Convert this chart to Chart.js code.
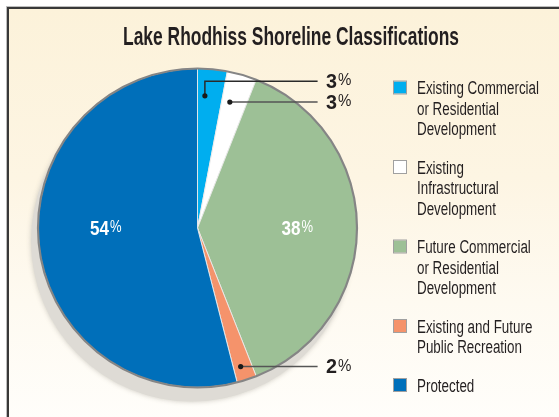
<!DOCTYPE html>
<html><head><meta charset="utf-8">
<script src="https://cdn.jsdelivr.net/npm/chart.js@4/dist/chart.umd.min.js"></script>
<style>
html,body{margin:0;padding:0;background:#fff;width:559px;height:417px;overflow:hidden}
#frame{position:absolute;left:7px;top:7px;width:560px;height:420px;border-left:2px solid #383838;border-top:2px solid #383838;
background:linear-gradient(to bottom,#fcf2da 0%,#fdf5e3 40%,#fefaf1 70%,#fffefb 100%);box-shadow:-1px -1px 0 #bdbdbd}
#c{position:absolute;left:0;top:0}
</style></head>
<body><div id="frame"></div><canvas id="c" width="559" height="417"></canvas>
<script>
// ---- data ----
const chartTitle = 'Lake Rhodhiss Shoreline Classifications';
const categories = [
  ['Existing Commercial', 'or Residential', 'Development'],
  ['Existing', 'Infrastructural', 'Development'],
  ['Future Commercial', 'or Residential', 'Development'],
  ['Existing and Future', 'Public Recreation'],
  ['Protected']
];
const shares = [3, 3, 38, 2, 54];

// ---- styles ----
const sliceColors = ['#00aeef', '#ffffff', '#9dc096', '#f5936b', '#006fba'];
const FONT = '"Liberation Sans Narrow", "Liberation Sans", Arial, sans-serif';
const TEXT = '#231f20';
// label placement per slice (polar, relative to the pie)
const labelStyle = [
  {inside:false, r:0.83, ang:-2.2, elbow:-0.92, line:'#2a2a2a'},
  {inside:false, r:0.815, ang:-1.8, elbow:null, line:'#555555'},
  {inside:true, r:0.625},
  {inside:false, r:0.91, ang:0.7, elbow:null, line:'#555555'},
  {inside:true, r:0.575}
];

function scaledText(ctx, txt, x, y, sx, align){
  ctx.save();
  ctx.translate(x, y);
  ctx.scale(sx, 1);
  ctx.textAlign = align || 'left';
  ctx.fillText(txt, 0, 0);
  ctx.restore();
}

function drawPct(ctx, num, x, midY, color, inside){
  ctx.save();
  ctx.fillStyle = color;
  ctx.textBaseline = 'alphabetic';
  ctx.font = 'bold 21px ' + FONT;
  const sx = inside ? 19 / ctx.measureText('54').width : 11 / ctx.measureText('3').width;
  const dw = ctx.measureText(num).width * sx;
  ctx.font = '16px ' + FONT;
  const pw = ctx.measureText('%').width * sx;
  const total = dw + 1 + pw;
  const x0 = inside ? x - total / 2 : x;
  const base = midY + 7.5;
  ctx.font = 'bold 21px ' + FONT;
  scaledText(ctx, num, x0, base, sx);
  ctx.font = '16px ' + FONT;
  scaledText(ctx, '%', x0 + dw + 1, base - 2.5, sx);
  ctx.restore();
}

const decor = {
  id: 'decor',
  beforeDatasetsDraw(chart){
    const a = chart.getDatasetMeta(0).data[0];
    const ctx = chart.ctx;
    ctx.save();
    ctx.fillStyle = '#dedbd5';
    ctx.shadowColor = 'rgba(200,196,186,0.9)';
    ctx.shadowBlur = 5;
    ctx.beginPath();
    ctx.arc(a.x - 6, a.y + 13, a.outerRadius + 1, 0, Math.PI * 2);
    ctx.fill();
    ctx.restore();
  },
  afterDatasetsDraw(chart){
    const a = chart.getDatasetMeta(0).data[0];
    const ctx = chart.ctx;
    ctx.save();
    ctx.strokeStyle = '#858585';
    ctx.lineWidth = 2.2;
    ctx.beginPath();
    ctx.arc(a.x, a.y, a.outerRadius, 0, Math.PI * 2);
    ctx.stroke();
    ctx.restore();
  },
  afterDraw(chart){
    const ctx = chart.ctx;
    const arcs = chart.getDatasetMeta(0).data;
    const cx = arcs[0].x, cy = arcs[0].y, R = arcs[0].outerRadius;

    // title
    ctx.save();
    ctx.fillStyle = TEXT;
    ctx.font = 'bold 25px ' + FONT;
    const tsx = 336 / ctx.measureText(chartTitle).width;
    scaledText(ctx, chartTitle, 291, 45, tsx, 'center');
    ctx.restore();

    // legend
    ctx.save();
    ctx.font = '18px ' + FONT;
    const lsx = 122 / ctx.measureText('Existing Commercial').width;
    let base = 94;
    categories.forEach((lines, i) => {
      ctx.fillStyle = sliceColors[i];
      ctx.fillRect(394, base - 12.5, 12, 12);
      ctx.strokeStyle = '#a0a0a0';
      ctx.lineWidth = 1;
      ctx.strokeRect(393.5, base - 13, 13, 13);
      ctx.fillStyle = TEXT;
      lines.forEach((ln, k) => {
        scaledText(ctx, ln, 417, base + k * 20.5, lsx);
      });
      base += (lines.length - 1) * 20.5 + 38.5;
    });
    ctx.restore();

    // value labels
    arcs.forEach((arc, i) => {
      const st = labelStyle[i];
      const mid = (arc.startAngle + arc.endAngle) / 2;
      const txt = String(shares[i]);
      if (st.inside) {
        const side = Math.cos(mid) >= 0 ? 1 : -1;
        drawPct(ctx, txt, cx + side * st.r * R, cy - 1, '#ffffff', true);
      } else {
        const ang = mid + st.ang * Math.PI / 180;
        const dx = cx + Math.cos(ang) * st.r * R;
        const dy = cy + Math.sin(ang) * st.r * R;
        const ly = st.elbow == null ? dy : cy + st.elbow * R;
        const endX = cx + 0.753 * R;
        ctx.save();
        ctx.strokeStyle = st.line;
        ctx.lineWidth = 1.5;
        ctx.beginPath();
        ctx.moveTo(dx, dy);
        if (st.elbow != null) ctx.lineTo(dx, ly);
        ctx.lineTo(endX, ly);
        ctx.stroke();
        ctx.fillStyle = '#1a1a1a';
        ctx.beginPath();
        ctx.arc(dx, dy, 2.6, 0, Math.PI * 2);
        ctx.fill();
        ctx.restore();
        drawPct(ctx, txt, endX + 8.5, ly - 1, TEXT, false);
      }
    });
  }
};

new Chart(document.getElementById('c'), {
  type: 'pie',
  data: {
    labels: categories.map(c => c.join(' ')),
    datasets: [{
      data: shares,
      backgroundColor: sliceColors,
      borderColor: 'rgba(235,235,235,0.9)',
      borderWidth: 1,
      hoverOffset: 0
    }]
  },
  options: {
    responsive: false,
    animation: false,
    events: [],
    layout: {padding: {left: 37, right: 201, top: 68, bottom: 29}},
    plugins: {legend: {display: false}, tooltip: {enabled: false}, title: {display: false}}
  },
  plugins: [decor]
});
</script>
</body></html>
